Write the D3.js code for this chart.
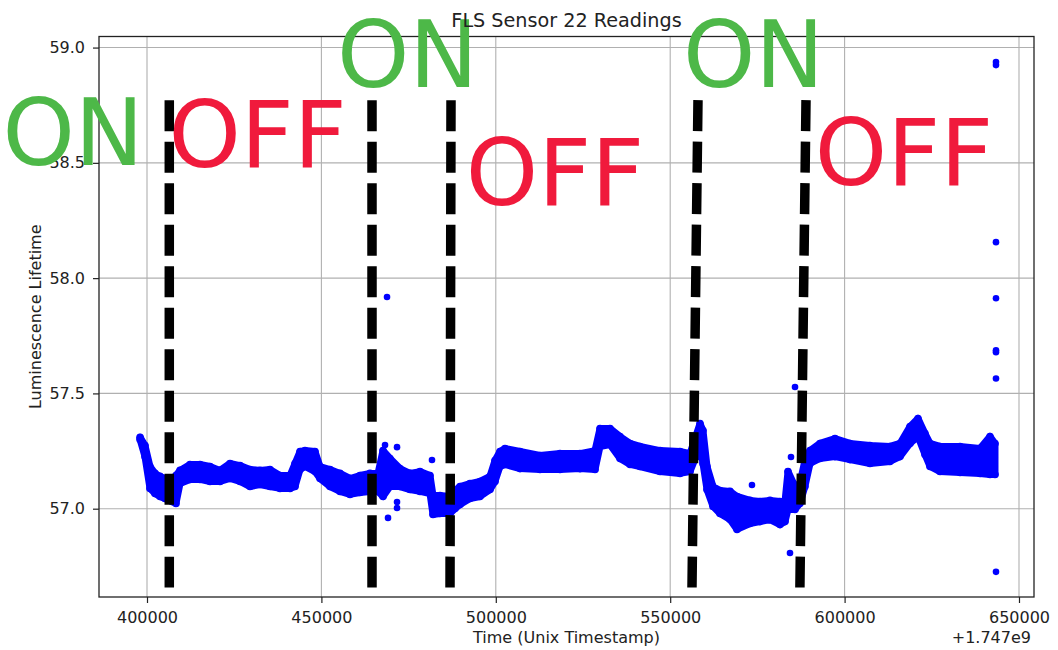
<!DOCTYPE html>
<html>
<head>
<meta charset="utf-8">
<script src="https://cdn.jsdelivr.net/npm/d3@7"></script>
<style>
  body { margin: 0; background: #fff; }
  .sensor-chart text { font-family: "DejaVu Sans", sans-serif; fill: #222; }
  .sensor-chart__axis path, .sensor-chart__axis line { stroke: #222; }
  .sensor-chart__grid line { stroke: #b0b0b0; stroke-width: 1.1; }
</style>
</head>
<body>
<div id="chart"></div>
<script>
// min / max of the readings for each time bin (timestamps minus 1.747e9)
const bandTime = [398020, 399426, 400861, 402295, 403729, 405163, 407171, 408308, 409466, 412324,
  415193, 418061, 420929, 423798, 426666, 429535, 432393, 435261, 438130, 440998,
  442432, 443867, 445301, 448169, 449603, 452462, 455330, 458199, 461067, 463935,
  466230, 467664, 469662, 472531, 475399, 478267, 481136, 481996, 484004, 486873,
  488307, 489741, 492600, 495468, 498336, 499771, 501205, 502639, 506941, 512668,
  518405, 524142, 528445, 529879, 532747, 535616, 538484, 541342, 547079, 552816,
  555684, 558553, 559403, 560551, 562272, 564280, 567148, 569156, 572875, 575743,
  578612, 581480, 582914, 583775, 585783, 587187, 588621, 590085, 592944, 597246,
  601549, 607286, 613013, 615881, 618749, 621044, 623052, 624486, 627355, 633091,
  638818, 641687, 643121];
const bandHigh = [57.31, 57.274, 57.183, 57.153, 57.14, 57.131, 57.122, 57.144, 57.166, 57.192,
  57.192, 57.183, 57.166, 57.196, 57.187, 57.17, 57.166, 57.17, 57.144, 57.144,
  57.196, 57.248, 57.252, 57.248, 57.183, 57.17, 57.153, 57.131, 57.144, 57.153,
  57.153, 57.252, 57.218, 57.174, 57.153, 57.161, 57.144, 57.057, 57.057, 57.053,
  57.079, 57.096, 57.109, 57.118, 57.14, 57.209, 57.248, 57.261, 57.248, 57.231,
  57.239, 57.239, 57.252, 57.348, 57.348, 57.313, 57.283, 57.27, 57.252, 57.248,
  57.239, 57.369, 57.339, 57.183, 57.096, 57.079, 57.075, 57.053, 57.036, 57.031,
  57.036, 57.031, 57.031, 57.161, 57.096, 57.109, 57.209, 57.252, 57.283, 57.304,
  57.283, 57.274, 57.27, 57.283, 57.356, 57.391, 57.326, 57.283, 57.27, 57.27,
  57.261, 57.313, 57.283];
const bandLow = [57.3, 57.226, 57.088, 57.066, 57.053, 57.044, 57.031, 57.023, 57.109, 57.127,
  57.127, 57.118, 57.118, 57.131, 57.118, 57.096, 57.105, 57.096, 57.088, 57.088,
  57.096, 57.17, 57.183, 57.161, 57.131, 57.096, 57.075, 57.062, 57.07, 57.075,
  57.075, 57.053, 57.096, 57.096, 57.083, 57.075, 57.066, 56.975, 56.979, 56.979,
  57.001, 57.018, 57.044, 57.053, 57.083, 57.118, 57.183, 57.192, 57.174, 57.17,
  57.17, 57.174, 57.17, 57.27, 57.278, 57.218, 57.192, 57.183, 57.161, 57.153,
  57.161, 57.27, 57.196, 57.083, 57.01, 56.979, 56.953, 56.91, 56.936, 56.944,
  56.953, 56.931, 56.944, 56.997, 56.997, 57.023, 57.096, 57.196, 57.218, 57.226,
  57.213, 57.196, 57.205, 57.226, 57.283, 57.313, 57.235, 57.183, 57.161, 57.157,
  57.153, 57.148, 57.148];

// stray readings away from the main band
const outlierTime = [468812, 468238, 471680, 469099, 471680, 471680, 481710, 573449,
  584635, 585783, 584348, 643408, 643408, 643408, 643408, 643408, 643408, 643408, 643408];
const outlierValue = [57.918, 57.276, 57.267, 56.96, 57.029, 57.003, 57.211, 57.103,
  57.224, 57.528, 56.808, 58.937, 58.924, 58.156, 57.913, 57.687, 57.679, 57.565, 56.726];

// heater switch moments, drawn as dashed markers (top / bottom of the marker)
const switchTimeTop = [406390, 464509, 487159, 557969, 588938];
const switchTimeBottom = [406390, 464509, 486873, 556248, 587187];
const switchValueTop = 58.772;
const switchValueBottom = 56.658;

// state annotations
const stateText = ["ON", "OFF", "ON", "OFF", "ON", "OFF"];
const stateTime = [378784, 431681, 474687, 516971, 573884, 617028];
const stateValue = [58.49, 58.482, 58.829, 58.317, 58.829, 58.404];

const xTicks = [400000, 450000, 500000, 550000, 600000, 650000];
const yTicks = [57.0, 57.5, 58.0, 58.5, 59.0];
const xDomain = [386238, 654303];
const yDomain = [56.617, 59.048];

class SensorChart {
  constructor(elem, parameters) {
    this.elem = elem;
    this.parameters = parameters;

    this.init();
  }

  init() {
    this.setStyleClass();
    this.initChart();
    this.drawGrid();
    this.drawBand();
    this.drawOutliers();
    this.drawFrame();
    this.drawSwitches();
    this.drawStates();
    this.drawTexts();
  }

  setStyleClass() {
    this.styleClass = {
      CHART: "sensor-chart",
      AXIS: "sensor-chart__axis",
      GRID: "sensor-chart__grid",
    };
  }

  initChart() {
    const { width, height } = this.parameters;
    this.margin = { top: 36.5, right: 24, bottom: 53, left: 99 };
    this.innerWidth = width - this.margin.left - this.margin.right;
    this.innerHeight = height - this.margin.top - this.margin.bottom;

    this.svg = d3.select(this.elem).append("svg")
      .attr("width", width)
      .attr("height", height)
      .attr("class", this.styleClass.CHART);

    this.svg.append("rect")
      .attr("width", width)
      .attr("height", height)
      .attr("fill", "#fff");

    this.plot = this.svg.append("g")
      .attr("transform", `translate(${this.margin.left},${this.margin.top})`);

    this.x = d3.scaleLinear().domain(xDomain).range([0, this.innerWidth]);
    this.y = d3.scaleLinear().domain(yDomain).range([this.innerHeight, 0]);
  }

  drawGrid() {
    const grid = this.plot.append("g").attr("class", this.styleClass.GRID);

    grid.selectAll(".gx").data(xTicks).enter().append("line")
      .attr("x1", (d) => this.x(d)).attr("x2", (d) => this.x(d))
      .attr("y1", 0).attr("y2", this.innerHeight);

    grid.selectAll(".gy").data(yTicks).enter().append("line")
      .attr("x1", 0).attr("x2", this.innerWidth)
      .attr("y1", (d) => this.y(d)).attr("y2", (d) => this.y(d));
  }

  drawBand() {
    const rows = bandTime.map((t, i) => ({ t, hi: bandHigh[i], lo: bandLow[i] }));
    const area = d3.area()
      .x((d) => this.x(d.t))
      .y0((d) => this.y(d.lo))
      .y1((d) => this.y(d.hi));

    this.plot.append("path")
      .datum(rows)
      .attr("d", area)
      .attr("fill", "#0000ff")
      .attr("stroke", "#0000ff")
      .attr("stroke-width", 7)
      .attr("stroke-linejoin", "round");

    // dots on both edges give the band its beaded outline
    const edges = rows.flatMap((d) => [{ t: d.t, v: d.hi }, { t: d.t, v: d.lo }]);
    this.plot.selectAll(".edge").data(edges).enter().append("circle")
      .attr("cx", (d) => this.x(d.t))
      .attr("cy", (d) => this.y(d.v))
      .attr("r", 3.8)
      .attr("fill", "#0000ff");
  }

  drawOutliers() {
    this.plot.selectAll(".outlier").data(outlierTime).enter().append("circle")
      .attr("cx", (d) => this.x(d))
      .attr("cy", (d, i) => this.y(outlierValue[i]))
      .attr("r", 3.3)
      .attr("fill", "#0000ff");
  }

  drawFrame() {
    const xAxis = d3.axisBottom(this.x)
      .tickValues(xTicks)
      .tickFormat(d3.format("d"))
      .tickSize(6)
      .tickSizeOuter(0)
      .tickPadding(8.5);
    const yAxis = d3.axisLeft(this.y)
      .tickValues(yTicks)
      .tickFormat(d3.format(".1f"))
      .tickSize(6)
      .tickSizeOuter(0)
      .tickPadding(8);

    const gx = this.plot.append("g")
      .attr("class", this.styleClass.AXIS)
      .attr("transform", `translate(0,${this.innerHeight})`)
      .call(xAxis);
    const gy = this.plot.append("g")
      .attr("class", this.styleClass.AXIS)
      .call(yAxis);

    [gx, gy].forEach((g) => {
      g.selectAll("text").style("font-size", "16px");
      g.select(".domain").remove();
      g.selectAll("line").attr("stroke-width", 1.2);
    });

    this.plot.append("rect")
      .attr("width", this.innerWidth)
      .attr("height", this.innerHeight)
      .attr("fill", "none")
      .attr("stroke", "#222")
      .attr("stroke-width", 1.3);
  }

  drawSwitches() {
    this.plot.selectAll(".switch").data(switchTimeTop).enter().append("line")
      .attr("x1", (d) => this.x(d))
      .attr("y1", this.y(switchValueTop))
      .attr("x2", (d, i) => this.x(switchTimeBottom[i]))
      .attr("y2", this.y(switchValueBottom))
      .attr("stroke", "#000")
      .attr("stroke-width", 9.5)
      .attr("stroke-dasharray", "31,10.5");
  }

  drawStates() {
    this.plot.selectAll(".state").data(stateText).enter().append("text")
      .attr("x", (d, i) => this.x(stateTime[i]))
      .attr("y", (d, i) => this.y(stateValue[i]))
      .attr("text-anchor", "middle")
      .style("font-size", "92px")
      .style("fill", (d) => (d === "ON" ? "#4db848" : "#f01a3c"))
      .text((d) => d);
  }

  drawTexts() {
    const { width } = this.parameters;
    const cx = this.margin.left + this.innerWidth / 2;

    this.svg.append("text")
      .attr("x", cx).attr("y", 27)
      .attr("text-anchor", "middle")
      .style("font-size", "19.2px")
      .text("FLS Sensor 22 Readings");

    this.svg.append("text")
      .attr("x", cx).attr("y", 643)
      .attr("text-anchor", "middle")
      .style("font-size", "16px")
      .text("Time (Unix Timestamp)");

    this.svg.append("text")
      .attr("transform", `translate(41,${this.margin.top + this.innerHeight / 2}) rotate(-90)`)
      .attr("text-anchor", "middle")
      .style("font-size", "16px")
      .text("Luminescence Lifetime");

    this.svg.append("text")
      .attr("x", width - 27).attr("y", 643)
      .attr("text-anchor", "end")
      .style("font-size", "16px")
      .text("+1.747e9");
  }
}

new SensorChart(document.getElementById("chart"), { width: 1058, height: 650 });
</script>
</body>
</html>
